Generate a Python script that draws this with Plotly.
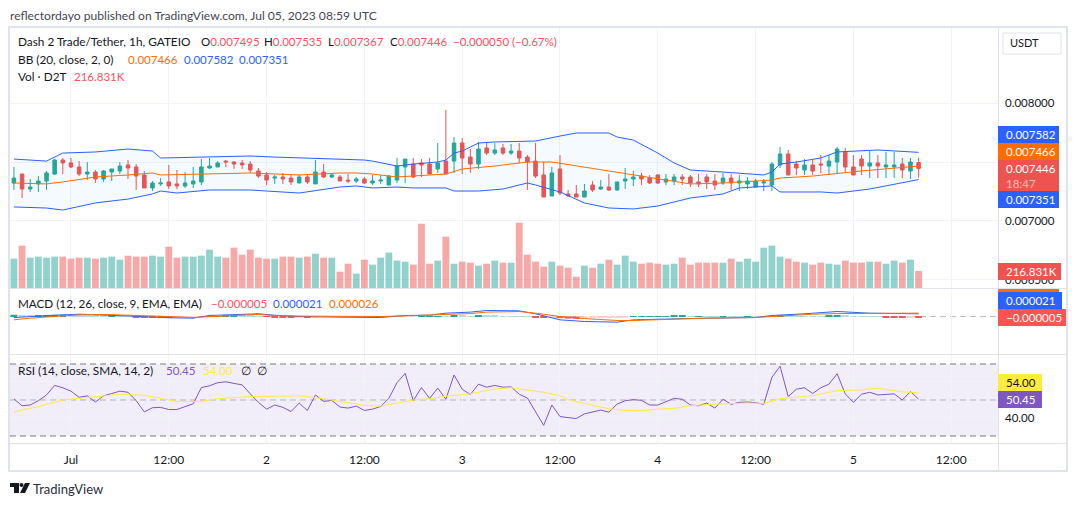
"""Dash 2 Trade/Tether 1h chart: candles + BB + volume, MACD and RSI panes."""

import pandas as pd
import plotly.graph_objects as go

W, H = 1080, 506
FONT = "Lato"
TEXT = "#131722"
GRID = "#f0f3fa"
FRAME = "#e0e3eb"
UP = "#26a69a"
DOWN = "#ef5350"
BLUE = "#2962ff"
ORANGE = "#ff6d00"
PURPLE = "#7e57c2"
YELLOW = "#ffeb3b"
LEGEND_RED = "#f7525f"
NUM_SIZE = 11.5

# prices, MACD values are in millionths of a USDT
first_bar = "2023-06-30 17:00"
open_u = [
    7322, 7398, 7271, 7314, 7339, 7398, 7517, 7492, 7458, 7398,
    7415, 7356, 7415, 7424, 7475, 7458, 7390, 7280, 7314, 7331,
    7314, 7297, 7314, 7331, 7449, 7458, 7508, 7500, 7492, 7483,
    7424, 7390, 7364, 7373, 7364, 7322, 7373, 7314, 7415, 7373,
    7373, 7347, 7339, 7356, 7322, 7339, 7305, 7347, 7458, 7483,
    7492, 7483, 7441, 7508, 7508, 7661, 7542, 7483, 7619, 7576,
    7619, 7576, 7593, 7542, 7508, 7390, 7212, 7441, 7229, 7229,
    7203, 7305, 7271, 7288, 7263, 7339, 7356, 7381, 7364, 7390,
    7331, 7339, 7373, 7373, 7331, 7373, 7339, 7322, 7364, 7322,
    7314, 7288, 7322, 7305, 7475, 7568, 7483, 7432, 7475, 7483,
    7466, 7500, 7585, 7458, 7525, 7466, 7492, 7458, 7458, 7483,
    7424, 7495,
]
high_u = [
    7458, 7398, 7356, 7381, 7424, 7525, 7534, 7534, 7508, 7500,
    7432, 7432, 7441, 7500, 7517, 7483, 7424, 7339, 7364, 7475,
    7432, 7415, 7458, 7525, 7534, 7508, 7517, 7508, 7517, 7508,
    7449, 7415, 7390, 7407, 7398, 7390, 7398, 7517, 7483, 7407,
    7390, 7398, 7373, 7373, 7390, 7390, 7390, 7534, 7525, 7534,
    7525, 7534, 7661, 7941, 7712, 7703, 7610, 7670, 7661, 7661,
    7653, 7653, 7661, 7559, 7661, 7500, 7458, 7559, 7263, 7305,
    7314, 7339, 7347, 7398, 7331, 7449, 7424, 7407, 7390, 7398,
    7398, 7398, 7398, 7390, 7398, 7398, 7398, 7407, 7398, 7390,
    7373, 7356, 7356, 7500, 7627, 7602, 7508, 7525, 7517, 7559,
    7559, 7627, 7619, 7559, 7559, 7593, 7559, 7585, 7585, 7534,
    7534, 7535,
]
low_u = [
    7263, 7195, 7246, 7246, 7263, 7390, 7398, 7449, 7381, 7347,
    7322, 7331, 7339, 7398, 7356, 7263, 7280, 7254, 7297, 7271,
    7271, 7280, 7280, 7305, 7441, 7458, 7458, 7441, 7441, 7407,
    7364, 7305, 7314, 7314, 7305, 7322, 7314, 7314, 7364, 7364,
    7339, 7322, 7322, 7314, 7305, 7314, 7305, 7322, 7322, 7364,
    7373, 7398, 7407, 7398, 7407, 7398, 7407, 7441, 7559, 7559,
    7559, 7559, 7492, 7263, 7364, 7203, 7212, 7220, 7203, 7203,
    7203, 7246, 7263, 7254, 7254, 7271, 7297, 7305, 7314, 7314,
    7305, 7305, 7305, 7288, 7288, 7271, 7263, 7305, 7263, 7254,
    7271, 7288, 7254, 7254, 7449, 7390, 7390, 7390, 7390, 7407,
    7390, 7398, 7415, 7390, 7390, 7364, 7364, 7364, 7364, 7364,
    7356, 7367,
]
close_u = [
    7364, 7271, 7288, 7339, 7407, 7517, 7492, 7458, 7398, 7415,
    7356, 7424, 7441, 7466, 7449, 7381, 7280, 7322, 7322, 7297,
    7297, 7322, 7339, 7458, 7466, 7492, 7500, 7483, 7475, 7432,
    7381, 7347, 7373, 7356, 7331, 7373, 7331, 7415, 7373, 7390,
    7339, 7339, 7356, 7322, 7339, 7347, 7381, 7466, 7525, 7373,
    7475, 7398, 7492, 7398, 7661, 7534, 7483, 7610, 7576, 7602,
    7576, 7593, 7534, 7500, 7381, 7203, 7407, 7237, 7212, 7203,
    7254, 7263, 7288, 7263, 7331, 7356, 7373, 7356, 7322, 7322,
    7356, 7373, 7356, 7322, 7314, 7331, 7305, 7364, 7322, 7339,
    7339, 7339, 7331, 7483, 7568, 7390, 7449, 7475, 7424, 7475,
    7508, 7610, 7458, 7390, 7466, 7492, 7466, 7475, 7475, 7432,
    7500, 7446,
]
volume_k = [
    374, 540, 387, 400, 387, 400, 400, 374, 387, 387,
    374, 387, 400, 361, 412, 400, 400, 412, 400, 527,
    387, 400, 400, 412, 489, 400, 387, 514, 425, 489,
    387, 374, 374, 400, 400, 387, 400, 438, 387, 387,
    208, 310, 183, 361, 298, 387, 451, 349, 336, 298,
    820, 310, 349, 655, 310, 336, 323, 285, 310, 349,
    323, 323, 833, 425, 336, 272, 336, 285, 259, 145,
    285, 259, 310, 361, 298, 412, 336, 310, 323, 310,
    298, 310, 387, 298, 323, 323, 323, 323, 374, 336,
    374, 336, 514, 540, 400, 374, 336, 323, 298, 323,
    310, 298, 349, 323, 323, 336, 336, 310, 349, 323,
    361, 216.831,
]

# Bollinger readings: hour offset from Jul 1 00:00, value
upper_h = [-7, -3, -1, 3, 7, 10, 11, 17, 22, 25, 33, 36, 37, 40, 42, 45, 46, 47, 48, 50, 52, 57, 60, 62, 66, 67, 69,
           72, 74, 76, 80, 85, 86, 87, 89, 92, 94, 99, 104]
upper_u = [7525, 7508, 7576, 7585, 7610, 7593, 7534, 7542, 7551, 7542, 7525, 7517, 7508, 7466, 7483, 7500, 7517,
           7576, 7593, 7661, 7670, 7678, 7720, 7746, 7746, 7712, 7686, 7576, 7492, 7432, 7415, 7390, 7415, 7483,
           7500, 7534, 7585, 7602, 7582]
lower_h = [-7, -3, -1, 3, 7, 10, 11, 13, 17, 22, 24, 28, 33, 35, 37, 40, 42, 46, 47, 50, 53, 56, 57, 60, 63, 66, 69,
           72, 76, 80, 82, 86, 87, 92, 94, 98, 104]
lower_u = [7119, 7110, 7093, 7153, 7186, 7229, 7254, 7237, 7263, 7263, 7254, 7237, 7288, 7297, 7280, 7288, 7280,
           7280, 7254, 7254, 7271, 7322, 7305, 7246, 7153, 7110, 7102, 7127, 7195, 7229, 7280, 7297, 7246, 7246,
           7237, 7271, 7351]
basis_h = [-7, -3, -1, 3, 7, 10, 11, 16, 22, 28, 33, 35, 37, 40, 46, 48, 52, 56, 59, 66, 73, 76, 80, 86, 87, 91, 97,
           104]
basis_u = [7322, 7314, 7331, 7373, 7390, 7407, 7390, 7398, 7407, 7390, 7407, 7407, 7398, 7373, 7398, 7441, 7466,
           7500, 7500, 7424, 7347, 7314, 7322, 7347, 7364, 7381, 7424, 7466]

macd_h = [-7, -5, -2, 1, 4, 6, 9, 12, 15, 17, 20, 23, 25, 28, 33, 38, 41, 44, 46, 49, 51, 55, 57, 60, 63, 67, 69,
          73, 78, 84, 86, 90, 94, 98, 104]
macd_u = [-8, 0, 10, 18, 13, 8, 0, -10, -13, 8, 16, 21, 10, 0, -5, -8, 8, 10, 26, 34, 47, 44, 21, -26, -39, -44,
          -26, -18, -13, -8, 8, 21, 39, 26, 21]
signal_h = [-7, -5, -2, 1, 4, 6, 9, 12, 15, 17, 20, 23, 25, 28, 33, 38, 41, 44, 46, 49, 51, 55, 57, 60, 63, 67, 69,
            73, 78, 84, 88, 91, 94, 98, 104]
signal_u = [-26, -13, 0, 13, 16, 13, 8, 0, -8, 0, 8, 16, 8, 3, 0, 0, 5, 10, 16, 23, 34, 39, 26, 0, -16, -31, -31,
            -21, -13, -8, 8, 18, 23, 23, 26]
hist_u = [
    14, 11, 8, 10, 12, 13, 14, 11, 9, 7,
    5, 4, 6, 4, 1, -4, -7, -9, -9.5, -10,
    -8, -6, -3, -1, 2, 3, 5, 6, 5, 4,
    1, -3, -5, -6, -8, -5, -8, -4, -3, -2,
    -1.5, -1, -1, -0.5, -2, -3, -2, -2, -1, -1,
    1, 2, 2.5, 2, 6, 5, 3, 9, 5, 4,
    3, 2, 1.5, 1, -7, -12, -9, -13, -16, -18,
    -13, -10, -8, -7, -5, -4, 0.5, 0.7, 0.9, 1,
    1.2, 4, 5, 1, 1, 0.8, 0.7, 1.2, 0.9, 0.8,
    1.5, 1, 0.8, 3, 5, 2, 1.5, 1, 0.8, 0.6,
    6, 7, 4, 1.5, 1, 0.6, 0.3, -5, -5.5, -6,
    -4, -5,
]

rsi = [
    50.6, 46.8, 47.2, 49.6, 52.8, 58.1, 56.8, 54.9, 51.5, 52.3,
    48.9, 52.3, 53.6, 54.9, 54.3, 49.6, 43.4, 45.7, 45.9, 44.7,
    44.7, 46.4, 47.9, 56.9, 57.9, 59.6, 60.1, 59.2, 58.4, 53.4,
    48.7, 44.9, 47.2, 45.9, 43.6, 48.3, 44.2, 52.8, 49.2, 49.8,
    46.1, 45.5, 46.6, 44.2, 44.9, 46.4, 50.9, 59.6, 64.8, 49.6,
    56.9, 50.9, 56.6, 50.4, 63.9, 56, 53, 58.8, 57.1, 58.1,
    57.1, 57.3, 53.2, 51.1, 43.4, 35.9, 47.2, 40.8, 40.2, 39.7,
    42.3, 43.4, 44.4, 43.2, 47.7, 49.6, 50.2, 49.8, 47.2, 47.2,
    49.2, 50.9, 50.4, 47.2, 46.8, 48.3, 45.5, 50.4, 47.6, 48.7,
    48.9, 48.5, 47.6, 62.6, 68.8, 51.9, 56, 56.8, 53.6, 56.8,
    58.8, 64.6, 53.4, 48.7, 53.2, 54.3, 52.8, 53, 53.4, 50,
    54.7, 50.45,
]
rsi_ma_h = [-7, -6, -4, -3, -1, 2, 5, 6, 9, 11, 13, 16, 18, 22, 25, 28, 31, 34, 36, 38, 40, 42, 44, 46, 49, 52, 54,
            56, 58, 60, 61, 63, 66, 68, 70, 72, 74, 76, 79, 83, 85, 87, 91, 94, 97, 99, 102, 104]
rsi_ma = [43, 44.6, 46.2, 47.7, 50, 51.3, 52.8, 53.2, 52.6, 51.1, 49.2, 49.2, 50.7, 51.9, 52.3, 52.3, 50.7, 48.5,
          47, 46.6, 48.1, 50, 50.6, 52.1, 53.4, 56.2, 56.8, 55.6, 54.3, 52.4, 50.2, 48.1, 45.1, 44.2, 44, 44.9,
          45.3, 46.8, 47.7, 48.3, 48.1, 50.7, 52.4, 55.2, 55.6, 56.6, 54.5, 54]

tick_hours = [0, 12, 24, 36, 48, 60, 72, 84, 96, 108]
tick_labels = ["Jul", "12:00", "2", "12:00", "3", "12:00", "4", "12:00", "5", "12:00"]

jul1 = pd.Timestamp("2023-07-01")


def at_hours(hours):
    return jul1 + pd.to_timedelta(hours, unit="h")


def micro(values):
    return [v / 1e6 for v in values]


def px_x(x):
    return x / W


def px_y(y):
    return 1 - y / H


bars = pd.date_range(first_bar, periods=len(close_u), freq="h")
bar_colors = [UP if c >= o else DOWN for o, c in zip(open_u, close_u)]
volume_colors = ["rgba(38,166,154,0.5)" if c == UP else "rgba(239,83,80,0.5)" for c in bar_colors]

hist_colors = []
for i, v in enumerate(hist_u):
    rising = i == 0 or v >= hist_u[i - 1]
    if v >= 0:
        hist_colors.append("#26a69a" if rising else "#b2dfdb")
    else:
        hist_colors.append("#ffcdd2" if rising else "#ff5252")

fig = go.Figure()

fig.add_trace(go.Bar(x=bars, y=volume_k, marker=dict(color=volume_colors, line_width=0),
                     width=3600000 * 0.84, xaxis="x", yaxis="y"))
fig.add_trace(go.Scatter(x=at_hours(upper_h), y=micro(upper_u), mode="lines",
                         line=dict(color=BLUE, width=1), xaxis="x", yaxis="y2"))
fig.add_trace(go.Scatter(x=at_hours(lower_h), y=micro(lower_u), mode="lines",
                         line=dict(color=BLUE, width=1), fill="tonexty",
                         fillcolor="rgba(33,150,243,0.05)", xaxis="x", yaxis="y2"))
fig.add_trace(go.Scatter(x=at_hours(basis_h), y=micro(basis_u), mode="lines",
                         line=dict(color=ORANGE, width=1), xaxis="x", yaxis="y2"))
fig.add_trace(go.Candlestick(x=bars, open=micro(open_u), high=micro(high_u), low=micro(low_u), close=micro(close_u),
                             increasing=dict(line=dict(color=UP, width=1), fillcolor=UP),
                             decreasing=dict(line=dict(color=DOWN, width=1), fillcolor=DOWN),
                             whiskerwidth=0, xaxis="x", yaxis="y2"))

fig.add_trace(go.Bar(x=bars, y=micro(hist_u), marker=dict(color=hist_colors, line_width=0),
                     width=3600000 * 0.84, xaxis="x2", yaxis="y3"))
fig.add_trace(go.Scatter(x=at_hours(macd_h), y=micro(macd_u), mode="lines",
                         line=dict(color=BLUE, width=1), xaxis="x2", yaxis="y3"))
fig.add_trace(go.Scatter(x=at_hours(signal_h), y=micro(signal_u), mode="lines",
                         line=dict(color=ORANGE, width=1), xaxis="x2", yaxis="y3"))

fig.add_trace(go.Scatter(x=bars, y=rsi, mode="lines", line=dict(color=PURPLE, width=1), xaxis="x3", yaxis="y4"))
fig.add_trace(go.Scatter(x=at_hours(rsi_ma_h), y=rsi_ma, mode="lines", line=dict(color=YELLOW, width=1),
                         xaxis="x3", yaxis="y4"))

x_range = [at_hours(-7.48), at_hours(113.74)]
x_common = dict(type="date", range=x_range, domain=[px_x(10), px_x(998)], tickmode="array",
                tickvals=at_hours(tick_hours), ticktext=tick_labels, showgrid=True, gridcolor=GRID, gridwidth=1,
                zeroline=False, showline=False, rangeslider=dict(visible=False),
                tickfont=dict(family=FONT, size=12, color=TEXT))
y_common = dict(showgrid=True, gridcolor=GRID, gridwidth=1, zeroline=False, showline=False, side="right",
                tickmode="array", tickfont=dict(family=FONT, size=NUM_SIZE, color=TEXT), ticks="",
                ticklabelstandoff=6)

fig.update_layout(
    width=W, height=H, margin=dict(l=0, r=0, t=0, b=0), paper_bgcolor="white", plot_bgcolor="white",
    showlegend=False, barmode="overlay", boxgap=0.38, hovermode=False,
    xaxis=dict(x_common, anchor="y", showticklabels=False),
    xaxis2=dict(x_common, anchor="y3", showticklabels=False),
    xaxis3=dict(x_common, anchor="y4", ticks="outside", ticklen=6, tickcolor="rgba(0,0,0,0)"),
    yaxis=dict(domain=[px_y(288), px_y(28)], range=[0, 3315], visible=False, fixedrange=True),
    yaxis2=dict(y_common, domain=[px_y(288), px_y(28)], overlaying="y", anchor="x", range=[0.006432, 0.008636],
                tickvals=[0.0065, 0.007, 0.0075, 0.008], ticktext=["0.006500", "0.007000", "", "0.008000"]),
    yaxis3=dict(y_common, domain=[px_y(354), px_y(289)], anchor="x2", range=[-0.0002925, 0.0002145],
                tickvals=[], showgrid=False),
    yaxis4=dict(y_common, domain=[px_y(443), px_y(355)], anchor="x3", range=[26.1, 75],
                tickvals=[40, 60], ticktext=["40.00", ""]),
)

shapes = [
    # RSI band and levels
    dict(type="rect", xref="x3 domain", yref="y4", x0=0, x1=1, y0=30, y1=70, fillcolor="rgba(126,87,194,0.1)",
         line_width=0, layer="below"),
    dict(type="line", xref="x3 domain", yref="y4", x0=0, x1=1, y0=70, y1=70,
         line=dict(color="#787b86", width=1, dash="6px,4px")),
    dict(type="line", xref="x3 domain", yref="y4", x0=0, x1=1, y0=30, y1=30,
         line=dict(color="#787b86", width=1, dash="6px,4px")),
    dict(type="line", xref="x3 domain", yref="y4", x0=0, x1=1, y0=50, y1=50,
         line=dict(color="rgba(120,123,134,0.5)", width=1, dash="6px,4px"), layer="below"),
    dict(type="line", xref="x2 domain", yref="y3", x0=0, x1=1, y0=0, y1=0,
         line=dict(color="rgba(120,123,134,0.5)", width=1, dash="6px,4px"), layer="below"),
]


def frame_line(x0, y0, x1, y1):
    shapes.append(dict(type="line", xref="paper", yref="paper", x0=px_x(x0), y0=px_y(y0), x1=px_x(x1), y1=px_y(y1),
                       line=dict(color=FRAME, width=1)))


# outer frame, pane separators, price axis edge
shapes.append(dict(type="rect", xref="paper", yref="paper", x0=px_x(9), x1=px_x(1067), y0=px_y(471), y1=px_y(27),
                   line=dict(color=FRAME, width=2)))
frame_line(9, 288.5, 1067, 288.5)
frame_line(9, 354.5, 1067, 354.5)
frame_line(9, 443.5, 1067, 443.5)
frame_line(998.5, 27, 998.5, 471)

annotations = []


def label(x, y, text, color=TEXT, size=12, anchor="left", bg=None):
    # annotation boxes keep a 1px border gap on the left
    annotations.append(dict(xref="paper", yref="paper", x=px_x(x - 1), y=px_y(y), text=text, showarrow=False,
                            xanchor=anchor, yanchor="middle", align="left", borderpad=0,
                            font=dict(family=FONT, size=size, color=color), bgcolor=bg))


def tag(y0, y1, x1, color, text, text_color="white"):
    shapes.append(dict(type="rect", xref="paper", yref="paper", x0=px_x(998), x1=px_x(x1), y0=px_y(y1), y1=px_y(y0),
                       fillcolor=color, line_width=0, layer="above"))
    label(1006, (y0 + y1) / 2, text, color=text_color, size=NUM_SIZE)


label(10, 15, "reflectordayo published on TradingView.com, Jul 05, 2023 08:59 UTC", color="#434651", size=12.1)

label(18, 42, "Dash 2 Trade/Tether, 1h, GATEIO", size=11.8)
for x, head, val in [(201, "O", "0.007495"), (264, "H", "0.007535"), (328, "L", "0.007367"), (390, "C", "0.007446")]:
    label(x, 42, head + f'<span style="color:{LEGEND_RED}">{val}</span>', size=NUM_SIZE)
label(453, 42, "−0.000050 (−0.67%)", color=LEGEND_RED, size=NUM_SIZE)

label(18, 59, "BB (20, close, 2, 0)", size=11.8)
label(127.5, 59, "0.007466", color=ORANGE, size=NUM_SIZE)
label(184, 59, "0.007582", color=BLUE, size=NUM_SIZE)
label(239, 59, "0.007351", color=BLUE, size=NUM_SIZE)

label(18, 76, "Vol · D2T", size=11.8)
label(74, 76, "216.831K", color=LEGEND_RED, size=NUM_SIZE)

label(18, 303, "MACD (12, 26, close, 9, EMA, EMA)", size=11.7)
label(211, 303, "−0.000005", color=LEGEND_RED, size=NUM_SIZE)
label(273, 303, "0.000021", color=BLUE, size=NUM_SIZE)
label(329, 303, "0.000026", color=ORANGE, size=NUM_SIZE)

label(18, 370, "RSI (14, close, SMA, 14, 2)", size=11.8)
label(166, 370, "50.45", color=PURPLE, size=NUM_SIZE)
label(203, 370, "54.00", color=YELLOW, size=NUM_SIZE)
label(241, 370, "∅")
label(256.5, 370, "∅")

# USDT button
shapes.append(dict(type="rect", xref="paper", yref="paper", x0=px_x(1003), x1=px_x(1061), y0=px_y(54), y1=px_y(33),
                   line=dict(color=FRAME, width=1), fillcolor="white", layer="above"))
label(1010, 43, "USDT", size=11)

# last-value tags on the price scale
tag(263, 280, 1061, DOWN, "216.831K")
tag(126, 143, 1059, BLUE, "0.007582")
tag(143, 160, 1059, ORANGE, "0.007466")
shapes.append(dict(type="rect", xref="paper", yref="paper", x0=px_x(998), x1=px_x(1059), y0=px_y(191), y1=px_y(160),
                   fillcolor=DOWN, line_width=0, layer="above"))
label(1006, 168, "0.007446", color="white", size=NUM_SIZE)
label(1006, 183, "18:47", color="rgba(255,255,255,0.6)", size=NUM_SIZE)
tag(191, 208, 1059, BLUE, "0.007351")

shapes.append(dict(type="rect", xref="paper", yref="paper", x0=px_x(998), x1=px_x(1059), y0=px_y(292), y1=px_y(289),
                   fillcolor=ORANGE, line_width=0, layer="above"))
tag(292, 309, 1062, BLUE, "0.000021")
tag(309, 326, 1066, "#ff5252", "−0.000005")
tag(374, 391, 1042, YELLOW, "54.00", text_color=TEXT)
tag(391, 408, 1042, PURPLE, "50.45")

# TradingView mark and name in the footer
LOGO = "#131722"
for pts in [[(10, 483), (19, 483), (19, 493), (14, 493), (14, 487), (10, 487)],
            [(25, 483), (30, 483), (25, 493), (20, 493)]]:
    path = "M " + " L ".join(f"{px_x(x)},{px_y(y)}" for x, y in pts) + " Z"
    shapes.append(dict(type="path", xref="paper", yref="paper", path=path, fillcolor=LOGO, line_width=0))
shapes.append(dict(type="circle", xref="paper", yref="paper", x0=px_x(19.5), x1=px_x(23.5), y0=px_y(487), y1=px_y(483),
                   fillcolor=LOGO, line_width=0))
label(33, 488.5, "TradingView", color="#2a2e39", size=13)

fig.update_layout(shapes=shapes, annotations=annotations)

# page body has an 8px margin by default, the picture starts at the window corner
fig.write_html("out.html", config=dict(displayModeBar=False), post_script="document.body.style.margin='0';")
